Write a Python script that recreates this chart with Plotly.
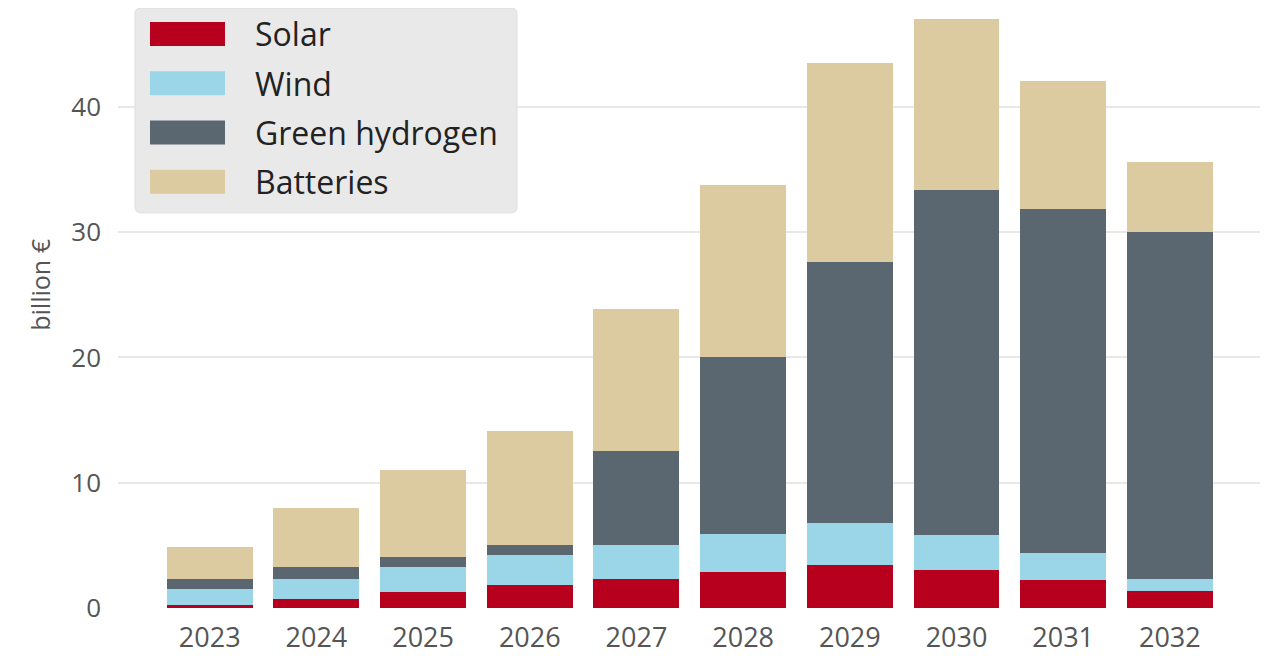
import plotly.graph_objs as go

years = ['2023', '2024', '2025', '2026', '2027', '2028', '2029', '2030', '2031', '2032']
solar = [0.2, 0.7, 1.25, 1.8, 2.3, 2.9, 3.45, 3.0, 2.25, 1.35]
wind = [1.3, 1.65, 2.05, 2.4, 2.7, 3.0, 3.3, 2.8, 2.15, 1.0]
hydrogen = [0.8, 0.9, 0.8, 0.8, 7.55, 14.15, 20.85, 27.55, 27.45, 27.65]
batteries = [2.55, 4.7, 6.9, 9.1, 11.35, 13.7, 15.9, 13.65, 10.25, 5.6]

series = [
    ('Solar', solar, '#b7001e'),
    ('Wind', wind, '#9ad5e8'),
    ('Green hydrogen', hydrogen, '#5a6670'),
    ('Batteries', batteries, '#dccaa1'),
]

W, H = 1268, 656
OFF = 8  # page body margin
L, R, T, B = 110, 8, 0, 55.5
pw, ph = W - L - R, H - T - B

# window pixel -> paper coords
def px(x):
    return (x - OFF - L) / pw

def py(y):
    return (H - B - (y - OFF)) / ph

def rounded_box(x0, y0, x1, y1, r):
    # x0,y0 top-left ; x1,y1 bottom-right in window pixels
    pts = [
        ('M', x0 + r, y0), ('L', x1 - r, y0), ('Q', x1, y0, x1, y0 + r),
        ('L', x1, y1 - r), ('Q', x1, y1, x1 - r, y1), ('L', x0 + r, y1),
        ('Q', x0, y1, x0, y1 - r), ('L', x0, y0 + r), ('Q', x0, y0, x0 + r, y0),
    ]
    out = []
    for p in pts:
        cmd, coords = p[0], p[1:]
        pairs = ['%.5f,%.5f' % (px(coords[i]), py(coords[i + 1])) for i in range(0, len(coords), 2)]
        out.append(cmd + ' '.join(pairs))
    return ' '.join(out) + ' Z'

fig = go.Figure()
for name, vals, color in series:
    fig.add_trace(go.Bar(x=years, y=vals, name=name, marker=dict(color=color, line=dict(width=0)),
                         showlegend=False))

# hand-made legend (big swatches like the original)
shapes = [dict(type='path', xref='paper', yref='paper', path=rounded_box(135, 8, 517, 213, 6),
               fillcolor='#e9e9e9', line=dict(color='#dedede', width=1), layer='above')]
annotations = []
for i, (name, vals, color) in enumerate(series):
    cy = 34 + i * 49.3
    shapes.append(dict(type='rect', xref='paper', yref='paper', x0=px(150), x1=px(225),
                       y0=py(cy + 12), y1=py(cy - 12), fillcolor=color, line=dict(width=0), layer='above'))
    annotations.append(dict(x=px(253), y=py(cy), xref='paper', yref='paper', text=name, showarrow=False,
                            xanchor='left', yanchor='middle', font=dict(size=32, color='#222')))

annotations.append(dict(x=px(40), y=py(285), xref='paper', yref='paper', text='billion €', showarrow=False,
                        textangle=-90, xanchor='center', yanchor='middle', font=dict(size=25, color='#555')))

fig.update_layout(
    barmode='stack', bargap=0.194,
    width=W, height=H,
    margin=dict(l=L, r=R, t=T, b=B),
    plot_bgcolor='white', paper_bgcolor='white',
    font=dict(family='Open Sans, sans-serif', color='#555'),
    shapes=shapes, annotations=annotations,
)
fig.update_xaxes(type='category', range=[-0.86, 9.92], showgrid=False, zeroline=False, showline=False,
                 ticks='', ticklabelstandoff=11, tickfont=dict(size=27, color='#555'))
fig.update_yaxes(range=[0, 47.9], tickvals=[0, 10, 20, 30, 40], showgrid=True, gridcolor='#e8e8e8',
                 gridwidth=1.5, zeroline=False, showline=False, ticks='', ticklabelstandoff=16,
                 tickfont=dict(size=26, color='#555'))

fig.write_html("out.html")
